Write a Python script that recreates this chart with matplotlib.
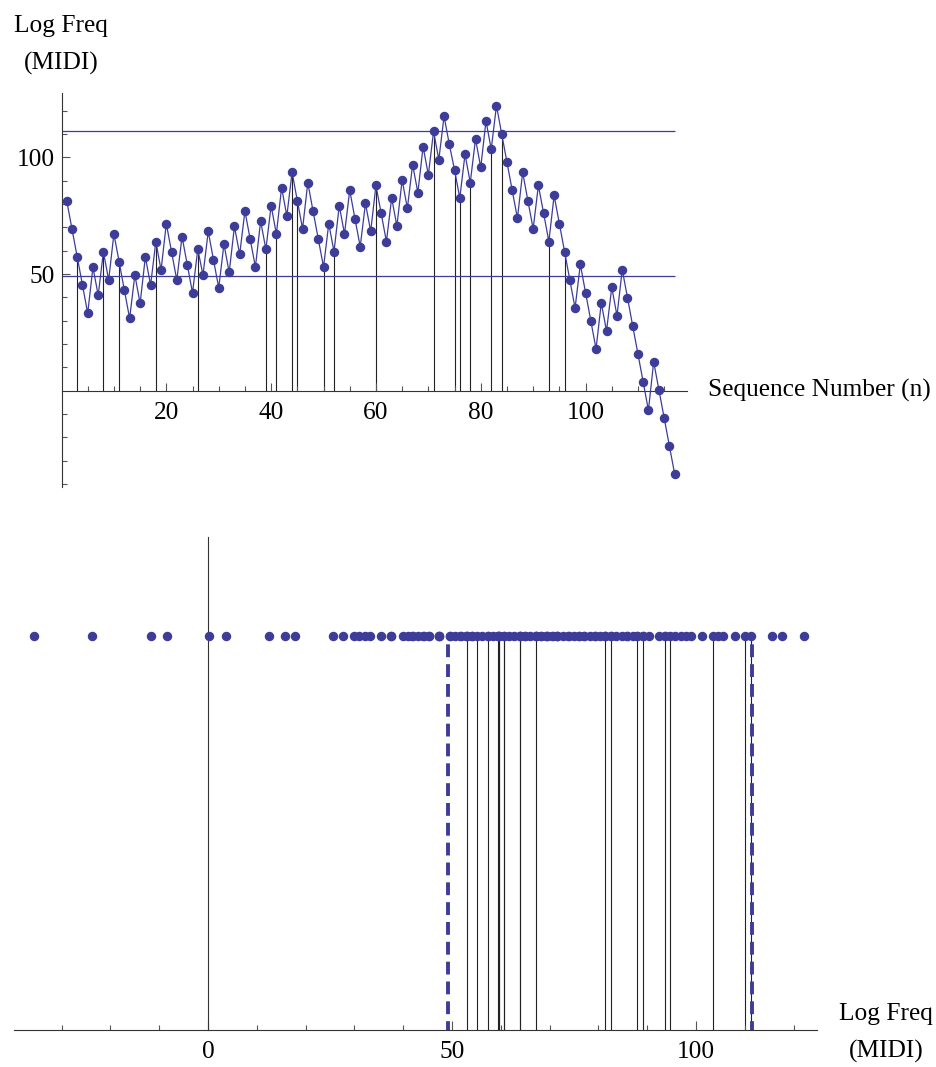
import numpy as np
import matplotlib.pyplot as plt
from matplotlib.ticker import FixedLocator

plt.rcParams['font.family'] = ['Liberation Serif', 'DejaVu Serif']

# log frequency (MIDI) of each term in the sequence, n = 1..117
log_freq = [81.4, 69.3, 57.3, 45.3, 33.2, 52.9, 40.9, 59.5, 47.4, 67.2,
            55.2, 43.0, 31.0, 49.6, 37.4, 57.3, 45.2, 63.9, 51.7, 71.6,
            59.5, 47.4, 66.0, 54.0, 41.9, 60.6, 49.6, 68.3, 56.1, 44.1,
            62.8, 50.7, 70.4, 58.4, 77.0, 65.0, 53.0, 72.7, 60.6, 79.3,
            67.2, 87.0, 74.9, 93.6, 81.4, 69.4, 89.2, 77.0, 65.0, 53.0,
            71.6, 59.6, 79.3, 67.2, 85.9, 73.7, 61.7, 80.3, 68.3, 88.0,
            76.0, 63.9, 82.6, 70.6, 90.3, 78.2, 96.9, 84.9, 104.6, 92.5,
            111.2, 99.0, 117.7, 105.6, 94.6, 82.6, 101.3, 89.2, 107.9, 95.7,
            115.6, 103.5, 122.2, 110.0, 98.0, 85.9, 73.9, 93.6, 81.4, 69.4,
            88.0, 76.0, 63.9, 83.7, 71.6, 59.6, 47.4, 35.4, 54.2, 42.0,
            30.0, 17.9, 37.6, 25.6, 44.3, 32.1, 51.9, 39.9, 27.7, 15.7,
            3.6, -8.4, 12.4, 0.3, -11.7, -23.7, -35.7]

# terms that get a drop line
marked = [3, 8, 11, 18, 26, 39, 41, 44, 45, 50, 52, 60, 71, 75, 76, 78, 82, 84, 93, 96]

band_lo = 49.2
band_hi = 111.4

blue = '#3d3d99'
W, H = 936, 1067
FS = 18.3

n = np.arange(1, len(log_freq) + 1)
vals = np.array(log_freq)
marked_vals = vals[np.array(marked) - 1]

fig = plt.figure(figsize=(W / 100, H / 100), dpi=100)

# ---- top: sequence plot
ax1 = fig.add_axes([61.5 / W, 1 - 487 / H, (686.7 - 61.5) / W, (487 - 93) / H])
ax1.set_xlim(0, 119.3)
ax1.set_ylim(-41.3, 127.6)
ax1.vlines(marked, 0, marked_vals, color='#222222', lw=0.8, zorder=1)
ax1.hlines([band_lo, band_hi], 0, len(log_freq), color=blue, lw=0.9, zorder=2)
ax1.plot(n, vals, '-o', color=blue, lw=0.9, ms=5.8, zorder=3)

for s in ['top', 'right']:
    ax1.spines[s].set_visible(False)
ax1.spines['bottom'].set_position(('data', 0))
for s in ['bottom', 'left']:
    ax1.spines[s].set_color('#333333')
    ax1.spines[s].set_linewidth(0.8)

ax1.xaxis.set_major_locator(FixedLocator([20, 40, 60, 80, 100]))
ax1.xaxis.set_minor_locator(FixedLocator([x for x in range(5, 120, 5) if x % 20]))
ax1.yaxis.set_major_locator(FixedLocator([50, 100]))
ax1.yaxis.set_minor_locator(FixedLocator([y for y in range(-40, 130, 10) if y not in (0, 50, 100)]))
ax1.tick_params(which='both', direction='in', color='#555555', width=0.8, labelsize=FS)
ax1.tick_params(which='major', length=5.8)
ax1.tick_params(which='minor', length=3.4)
ax1.tick_params(axis='x', pad=8)
ax1.tick_params(axis='y', pad=5)

fig.text(61 / W, 1 - 45 / H, 'Log Freq\n(MIDI)', ha='center', va='center',
         fontsize=FS, linespacing=1.85, multialignment='center')
fig.text(708 / W, 1 - 390 / H, 'Sequence Number (n)', ha='left', va='center', fontsize=FS)

# ---- bottom: values on a line
x_left = (14.3 - 208) / 4.88
x_right = (817.3 - 208) / 4.88
ax2 = fig.add_axes([14.3 / W, 1 - 1030 / H, (817.3 - 14.3) / W, (1030 - 537) / H])
ax2.set_xlim(x_left, x_right)
ax2.set_ylim(0, 493 / 394)
ax2.vlines(marked_vals, 0, 1, color='#222222', lw=0.8, zorder=1)
ax2.vlines([band_lo, band_hi], -0.01, 1, color=blue, lw=2.8,
           linestyles=[(0, (3.3, 1.8))], zorder=2)
ax2.plot(vals, np.ones_like(vals), 'o', color=blue, ms=5.8, zorder=3)

for s in ['top', 'right']:
    ax2.spines[s].set_visible(False)
ax2.spines['left'].set_position(('data', 0))
for s in ['bottom', 'left']:
    ax2.spines[s].set_color('#333333')
    ax2.spines[s].set_linewidth(0.8)
ax2.set_yticks([])
ax2.xaxis.set_major_locator(FixedLocator([0, 50, 100]))
ax2.xaxis.set_minor_locator(FixedLocator([x for x in range(-30, 130, 10) if x % 50]))
ax2.tick_params(which='both', direction='in', color='#555555', width=0.8, labelsize=FS, pad=8)
ax2.tick_params(which='major', length=6.5)
ax2.tick_params(which='minor', length=3.6)

fig.text(886 / W, 1 - 1033 / H, 'Log Freq\n(MIDI)', ha='center', va='center',
         fontsize=FS, linespacing=1.85, multialignment='center')

fig.savefig('out.png', dpi=100)
